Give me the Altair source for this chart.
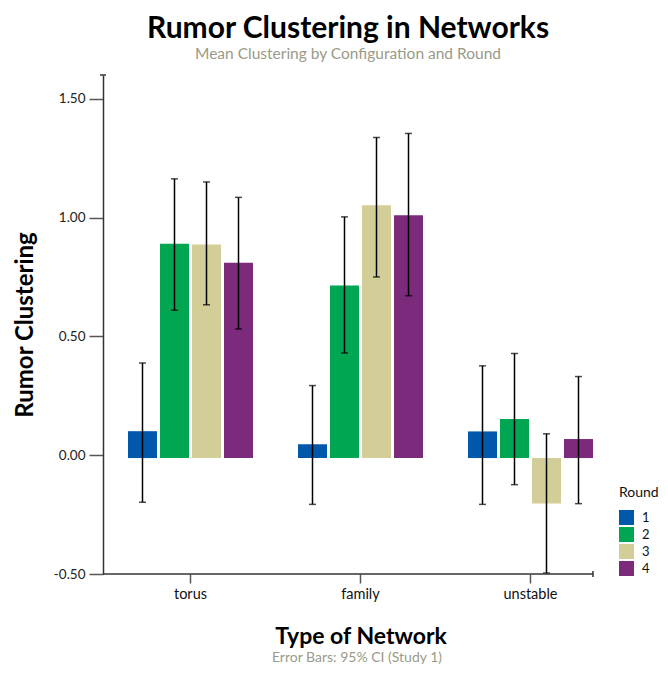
import altair as alt
import pandas as pd

networks = ["torus", "family", "unstable"]
rounds = ["1", "2", "3", "4"]
colors = ["#0058AA", "#00A651", "#D3CE97", "#7C2A7C"]

mean_torus = [0.101, 0.890, 0.887, 0.810]
mean_family = [0.046, 0.714, 1.052, 1.010]
mean_unstable = [0.100, 0.152, -0.203, 0.068]

low_torus = [-0.198, 0.610, 0.633, 0.531]
low_family = [-0.207, 0.430, 0.750, 0.671]
low_unstable = [-0.207, -0.124, -0.496, -0.204]

high_torus = [0.388, 1.163, 1.150, 1.085]
high_family = [0.293, 1.003, 1.337, 1.354]
high_unstable = [0.376, 0.428, 0.090, 0.331]

BASELINE = -0.012

means = [mean_torus, mean_family, mean_unstable]
lows = [low_torus, low_family, low_unstable]
highs = [high_torus, high_family, high_unstable]

rows = []
for i, n in enumerate(networks):
    for j, r in enumerate(rounds):
        rows.append({"network": n, "round": r, "mean": means[i][j],
                     "low": lows[i][j], "high": highs[i][j], "base": BASELINE})
df = pd.DataFrame(rows)

W, H = 490, 499
FONT = "Lato"

xscale = alt.Scale(domain=networks, range=[2.5, 512.5], paddingInner=0, paddingOuter=0)
xoff = alt.XOffset("round:N", sort=rounds,
                   scale=alt.Scale(paddingInner=0.094, paddingOuter=0.703))
yscale = alt.Scale(domain=[-0.5, 1.6], nice=False, zero=False)

xenc = alt.X("network:N", sort=networks, scale=xscale,
             axis=alt.Axis(title="Type of Network", domain=False, labelAngle=0,
                           tickSize=9, tickColor="#555555", tickWidth=1.5,
                           labelFont=FONT, labelFontSize=14.5, labelColor="#111111",
                           labelPadding=4, titleFont=FONT, titleFontSize=23,
                           titleFontWeight="bold", titleColor="#000000",
                           titlePadding=25))

base = alt.Chart(df)

bars = base.mark_bar().encode(
    x=xenc,
    xOffset=xoff,
    y=alt.Y("mean:Q", scale=yscale,
            axis=alt.Axis(title="Rumor Clustering", values=[-0.5, 0, 0.5, 1.0, 1.5],
                          labelExpr="replace(format(datum.value, '.2f'), '\u2212', '-')",
                          grid=False, tickSize=14, tickColor="#555555",
                          tickWidth=1.5, domainColor="#333333", domainWidth=1.5,
                          labelFont=FONT, labelFontSize=13.5, labelColor="#222222",
                          labelPadding=4, titleFont=FONT, titleFontSize=24,
                          titleFontWeight="bold", titleColor="#000000",
                          titlePadding=16)),
    y2="base:Q",
    color=alt.Color("round:N", sort=rounds,
                    scale=alt.Scale(domain=rounds, range=colors),
                    legend=alt.Legend(title="Round", orient="none", legendX=516,
                                      legendY=411, symbolType="square",
                                      symbolSize=225, symbolStrokeWidth=0,
                                      rowPadding=2, labelOffset=8, titlePadding=10,
                                      titleFont=FONT, titleFontSize=14,
                                      titleFontWeight="normal", titleColor="#111111",
                                      labelFont=FONT, labelFontSize=13,
                                      labelColor="#111111")),
)

err = base.mark_rule(color="#000000", strokeWidth=1.5).encode(
    x=alt.X("network:N", sort=networks, scale=xscale),
    xOffset=xoff,
    y=alt.Y("low:Q", scale=yscale),
    y2="high:Q",
)

cap_low = base.mark_tick(color="#000000", thickness=1.5, size=7).encode(
    x=alt.X("network:N", sort=networks, scale=xscale),
    xOffset=xoff,
    y=alt.Y("low:Q", scale=yscale),
)
cap_high = base.mark_tick(color="#000000", thickness=1.5, size=7).encode(
    x=alt.X("network:N", sort=networks, scale=xscale),
    xOffset=xoff,
    y=alt.Y("high:Q", scale=yscale),
)

one = pd.DataFrame({"k": [0]})
xaxis_line = alt.Chart(one).mark_rule(color="#333333", strokeWidth=1.5).encode(
    y=alt.datum(-0.5, scale=yscale), x=alt.value(0), x2=alt.value(W))
xaxis_cap = alt.Chart(one).mark_rule(color="#333333", strokeWidth=1.5).encode(
    x=alt.value(W), y=alt.value(H - 3), y2=alt.value(H + 3))
yaxis_cap = alt.Chart(one).mark_rule(color="#333333", strokeWidth=1.5).encode(
    y=alt.value(0), x=alt.value(-3), x2=alt.value(3))

caption = alt.Chart(pd.DataFrame({"t": ["Error Bars: 95% CI (Study 1)"]})).mark_text(
    font=FONT, fontSize=14, color="#9A9A88", align="center", baseline="middle"
).encode(x=alt.value(254), y=alt.value(H + 84), text="t:N")

chart = alt.layer(bars, err, cap_low, cap_high, xaxis_line, xaxis_cap, yaxis_cap,
                  caption).properties(
    width=W, height=H,
    padding={"left": 5, "top": 5, "right": 0, "bottom": 0},
    title=alt.TitleParams(
        text="Rumor Clustering in Networks",
        subtitle="Mean Clustering by Configuration and Round",
        font=FONT, fontSize=30, fontWeight="bold", color="#000000",
        subtitleFont=FONT, subtitleFontSize=15.5, subtitleColor="#9A9A88",
        subtitlePadding=3, anchor="middle", frame="group", offset=12),
).configure(background="#FFFFFF").configure_view(stroke=None, strokeWidth=0)

chart.save("out.html", embed_options={"renderer": "svg", "actions": False})
